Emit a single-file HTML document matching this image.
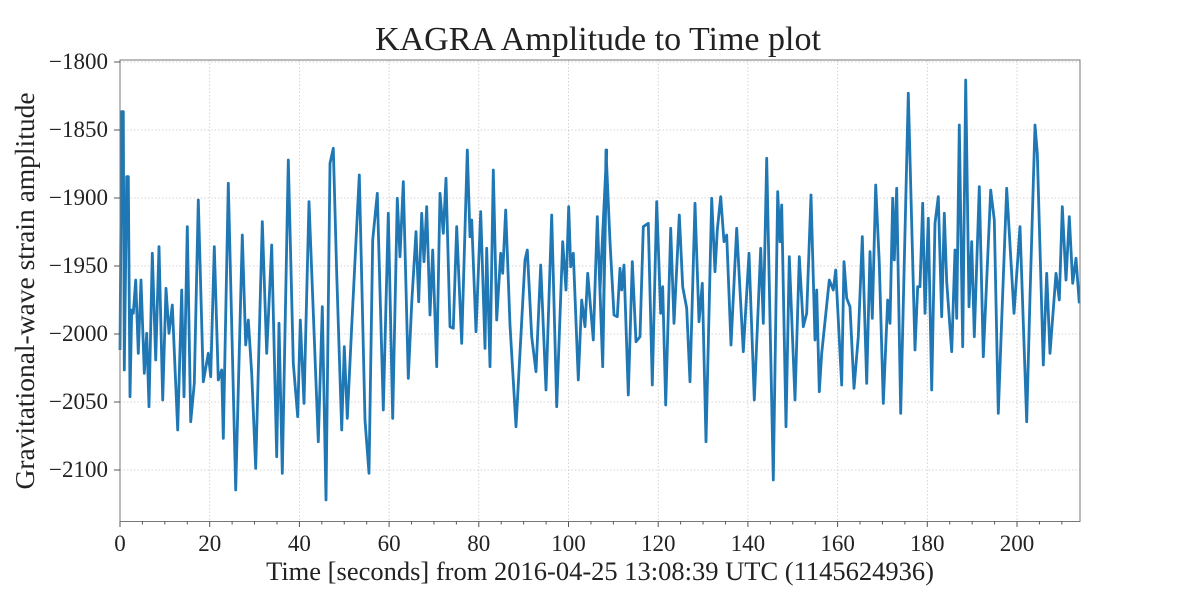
<!DOCTYPE html>
<html><head><meta charset="utf-8"><style>
html,body{margin:0;padding:0;background:#fff;width:1200px;height:600px;overflow:hidden}
svg text{font-family:"Liberation Serif","DejaVu Serif",serif;fill:#222}
</style></head><body>
<svg id="s" width="1200" height="600" xmlns="http://www.w3.org/2000/svg">
<g id="grid" stroke="#c8c8c8" stroke-width="0.8" stroke-dasharray="1.5,2"></g>
<polyline id="ln" fill="none" stroke="#1f77b4" stroke-width="2.8" stroke-linejoin="round"/>
<rect x="120" y="60" width="960" height="461.5" fill="none" stroke="#777" stroke-width="1"/>
<g id="ticks" stroke="#555" stroke-width="1"></g>
<g id="labels" font-size="23" text-anchor="middle"></g>
<text x="598" y="50" font-size="34" text-anchor="middle">KAGRA Amplitude to Time plot</text>
<text x="600" y="580" font-size="26.5" text-anchor="middle">Time [seconds] from 2016-04-25 13:08:39 UTC (1145624936)</text>
<text transform="translate(34,291) rotate(-90)" font-size="27.5" text-anchor="middle">Gravitational-wave strain amplitude</text>
</svg>
<script>
var segs=[[115,[15,870,20,155,25,155,28,930,35,350,40,350,45,1010,50,750,55,760,62,660,70,880,78,660,88,940,95,820,102,1040,112,580,122,900,132,560,143,1020,153,685,162,820,172,735,188,1110,200,690,207,1010,217,500,227,1085,238,970,250,420,265,965,280,880,287,950,298,560,310,960,320,930,325,1135,340,370,362,1290,382,525,392,855,400,780,410,940,422,1225,442,485,455,880,470,555,485,1190,492,790,502,1240,520,300,535,910,548,1070,556,780,567,1030,582,425,610,1145,622,740,633,1320,645,310,655,265,665,640,680,1110,688,860,697,1075,710,800,733,345]],
[360,[15,1080,27,1240,38,540,52,400,70,1050,85,460,98,1075,112,415,120,590,130,365,145,955,155,730,168,515,176,725,185,460,192,605,200,440,210,765,218,570,230,920,240,400,250,520,258,355,270,800,280,805,290,500,305,850,322,270,330,530,335,480,348,815,362,455,375,865,380,565,390,920,400,330,410,780,422,580,428,640,437,450,450,795,468,1100,495,600,502,570,515,830,528,935,542,615,558,990,575,465,590,1040,608,545,618,690,626,440,632,620,640,580,655,960,665,720,675,800,683,640,700,840,712,470,728,920,740,270]],
[600,[0,690,8,920,18,270,30,545,42,765,52,770,60,625,65,690,72,615,85,1005,97,605,108,845,120,830,130,500,145,490,157,975,170,425,182,760,188,680,197,1035,212,505,222,790,238,465,248,680,260,745,270,965,285,430,297,785,307,670,318,1145,335,415,345,635,352,510,362,410,372,545,380,525,393,855,410,505,430,875,447,580,463,1020,482,565,490,790,500,295,520,1260,533,395,540,545,545,435,558,1100,568,590,585,1020,598,590,610,800,620,760,633,405,645,840,650,690,658,995,665,880,688,660,700,690,707,630,725,975]],
[840,[5,970,12,605,20,715,30,740,42,985,55,830,67,530,80,970,90,575,97,775,107,375,118,610,130,1030,143,720,150,790,158,415,163,600,170,385,182,1060,205,100,225,870,233,680,240,680,248,430,255,760,265,475,275,990,285,490,295,410,305,770,313,460,320,665,335,875,345,570,350,775,358,195,368,860,377,60,387,740,395,545,403,830,418,380,430,890,452,390,463,480,475,1060,485,780,500,385,522,760,540,500,560,1085,570,710,585,195,592,280,610,915,620,640,630,880,648,640,658,720,667,440,678,660,688,470,698,670,708,595,718,730]]];
var pts=[];
segs.forEach(function(s){var o=s[0],a=s[1];for(var i=0;i<a.length;i+=2){pts.push((o+a[i]/3).toFixed(1)+','+(60+a[i+1]/3).toFixed(1));}});
document.getElementById('ln').setAttribute('points',pts.join(' '));
var NS='http://www.w3.org/2000/svg';
function el(p,t,at,tx){var e=document.createElementNS(NS,t);for(var k in at)e.setAttribute(k,at[k]);if(tx)e.textContent=tx;document.getElementById(p).appendChild(e);}
function X(v){return 120+v*4.485;}
function Y(v){return 130+(-1850-v)*1.36;}
for(var v=0;v<=200;v+=20){var x=X(v);if(v>0)el('grid','line',{x1:x,x2:x,y1:60,y2:521.5});el('ticks','line',{x1:x,x2:x,y1:521.5,y2:527});el('labels','text',{x:x,y:551},''+v);}
for(var v=5;v<=210;v+=5){if(v%20)el('ticks','line',{x1:X(v),x2:X(v),y1:521.5,y2:524.5});}
for(var v=-1800;v>=-2100;v-=50){var y=Y(v);el('grid','line',{x1:120,x2:1080,y1:y,y2:y});el('ticks','line',{x1:114,x2:120,y1:y,y2:y});el('labels','text',{x:108,y:y+7,'text-anchor':'end'},'\u2212'+(-v));}
</script>
</body></html>
